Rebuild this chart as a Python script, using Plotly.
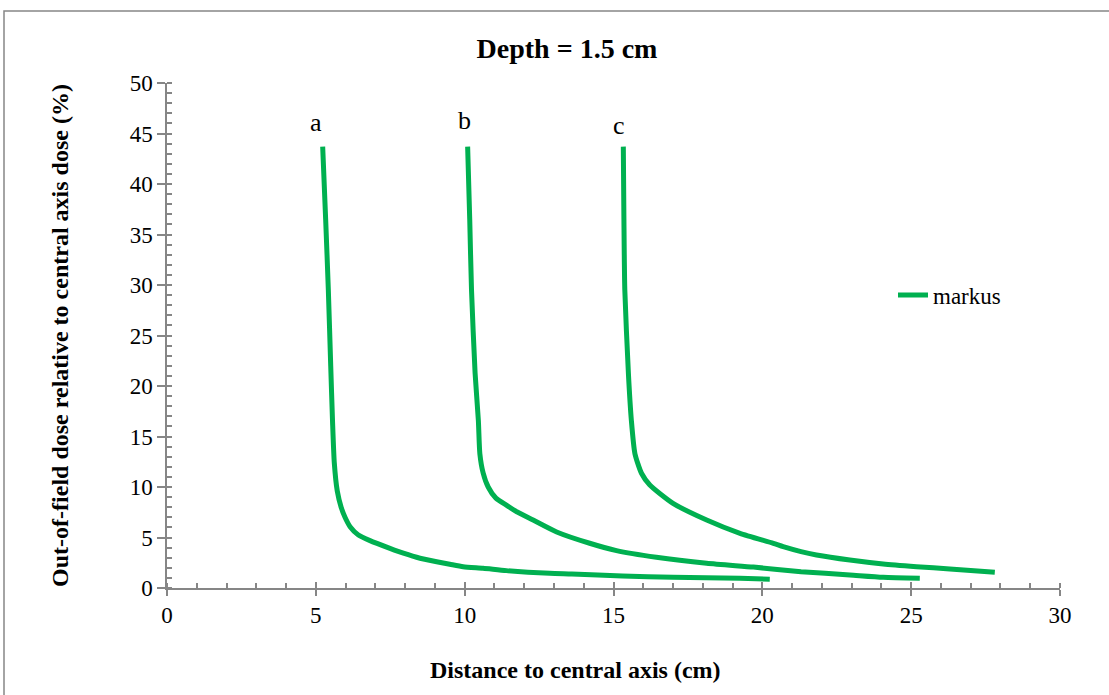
import plotly.graph_objects as go

# Curve a
a_x = [5.23, 5.33, 5.42, 5.50, 5.56, 5.62, 5.72, 5.85, 5.98, 6.15, 6.43, 6.82, 7.49, 7.94,
       8.5, 9.06, 9.5, 9.95, 10.62, 11.4, 12.86, 13.6, 15.3, 17.0, 19.25, 20.25]
a_y = [43.7, 36.5, 29.5, 22.0, 16.6, 12.4, 9.6, 8.0, 7.0, 6.07, 5.25, 4.69, 3.93, 3.45,
       2.95, 2.6, 2.35, 2.1, 1.95, 1.72, 1.45, 1.38, 1.19, 1.06, 0.96, 0.86]
# Curve b
b_x = [10.1, 10.17, 10.23, 10.35, 10.46, 10.51, 10.62, 10.79, 11.05, 11.4, 11.75, 12.3,
       13.09, 14.2, 15.1, 16.44, 18.13, 19.7, 21.3, 22.94, 24.06, 25.29]
b_y = [43.7, 36.5, 29.5, 21.3, 16.6, 13.3, 11.4, 10.0, 8.9, 8.2, 7.55, 6.73,
       5.55, 4.43, 3.7, 3.04, 2.45, 2.07, 1.62, 1.29, 1.06, 0.96]
# Curve c
c_x = [15.33, 15.35, 15.38, 15.5, 15.6, 15.72, 15.94, 16.22, 17.0, 18.13, 19.25, 20.37,
       20.7, 21.3, 21.82, 22.94, 24.06, 25.18, 26.3, 27.81]
c_y = [43.7, 36.5, 29.5, 21.3, 16.6, 13.3, 11.36, 10.2, 8.38, 6.73, 5.41, 4.42,
       4.09, 3.6, 3.27, 2.77, 2.38, 2.11, 1.88, 1.55]

labels = ["a", "b", "c"]
label_x = [5.0, 10.0, 15.2]
label_y = [46.1, 46.3, 45.8]

GREEN = "#00B050"
GRAY = "#868686"
FONT = "Liberation Serif"

fig = go.Figure()
for i, (cx, cy) in enumerate([(a_x, a_y), (b_x, b_y), (c_x, c_y)]):
    fig.add_trace(go.Scatter(x=cx, y=cy, mode="lines", name="markus",
                             legendgroup="markus", showlegend=(i == 0),
                             line=dict(color=GREEN, width=5, shape="spline", smoothing=0.6)))
# invisible trace for overlay axes
fig.add_trace(go.Scatter(x=[0], y=[0], xaxis="x2", yaxis="y2", mode="markers",
                         marker=dict(opacity=0), showlegend=False, hoverinfo="skip"))

W, H = 1109, 695
L, R, T, B = 167, 49, 83, 107
pw, ph = W - L - R, H - T - B

axis_common = dict(showgrid=False, zeroline=False, showline=True, linecolor=GRAY,
                   linewidth=1.5, tickcolor=GRAY, tickwidth=1.5,
                   tickfont=dict(family=FONT, size=23, color="black"))

fig.update_layout(
    width=W, height=H,
    margin=dict(l=L, r=R, t=T, b=B),
    paper_bgcolor="white", plot_bgcolor="white",
    font=dict(family=FONT, color="black"),
    title=dict(text="<b>Depth = 1.5 cm</b>", x=567 / W, xref="container",
               xanchor="center", y=1 - 48 / H, yanchor="middle",
               font=dict(family=FONT, size=28, color="black")),
    xaxis=dict(range=[0, 30], dtick=5, ticks="outside", ticklen=6,
               minor=dict(dtick=1, ticks="inside", ticklen=5, tickcolor=GRAY, tickwidth=1.5),
               **axis_common),
    yaxis=dict(range=[0, 50], dtick=5, ticks="outside", ticklen=8,
               minor=dict(dtick=1, ticks="inside", ticklen=5, tickcolor=GRAY, tickwidth=1.5),
               title=dict(text="<b>Out-of-field dose relative to central axis dose (%)</b>",
                          standoff=54, font=dict(family=FONT, size=24, color="black")),
               **axis_common),
    xaxis2=dict(overlaying="x", matches="x", range=[0, 30], dtick=5, ticks="inside", ticklen=6,
                showticklabels=False, showgrid=False, zeroline=False, showline=False,
                tickcolor=GRAY, tickwidth=1.5, side="bottom"),
    yaxis2=dict(overlaying="y", matches="y", range=[0, 50], dtick=5, ticks="inside", ticklen=5,
                showticklabels=False, showgrid=False, zeroline=False, showline=False,
                tickcolor=GRAY, tickwidth=1.5, side="left"),
    legend=dict(x=(893 - L) / pw, y=(588 - 295) / ph, xanchor="left", yanchor="middle",
                bgcolor="rgba(0,0,0,0)", font=dict(family=FONT, size=23, color="black"),
                itemwidth=30),
    showlegend=True,
)

for t, x, y in zip(labels, label_x, label_y):
    fig.add_annotation(x=x, y=y, text=t, showarrow=False,
                       font=dict(family=FONT, size=26, color="black"))

# x-axis title (centred on the chart area, as in the reference)
fig.add_annotation(xref="paper", yref="paper", x=(575 - L) / pw, y=(588 - 670) / ph,
                   text="<b>Distance to central axis (cm)</b>", showarrow=False,
                   xanchor="center", yanchor="middle",
                   font=dict(family=FONT, size=24, color="black"))

# outer chart border
fig.add_shape(type="rect", xref="paper", yref="paper",
              x0=(4 - L) / pw, x1=(1120 - L) / pw,
              y0=(588 - 710) / ph, y1=(588 - 11) / ph,
              line=dict(color=GRAY, width=1.5), fillcolor="rgba(0,0,0,0)", layer="below")

fig.write_html("out.html")
